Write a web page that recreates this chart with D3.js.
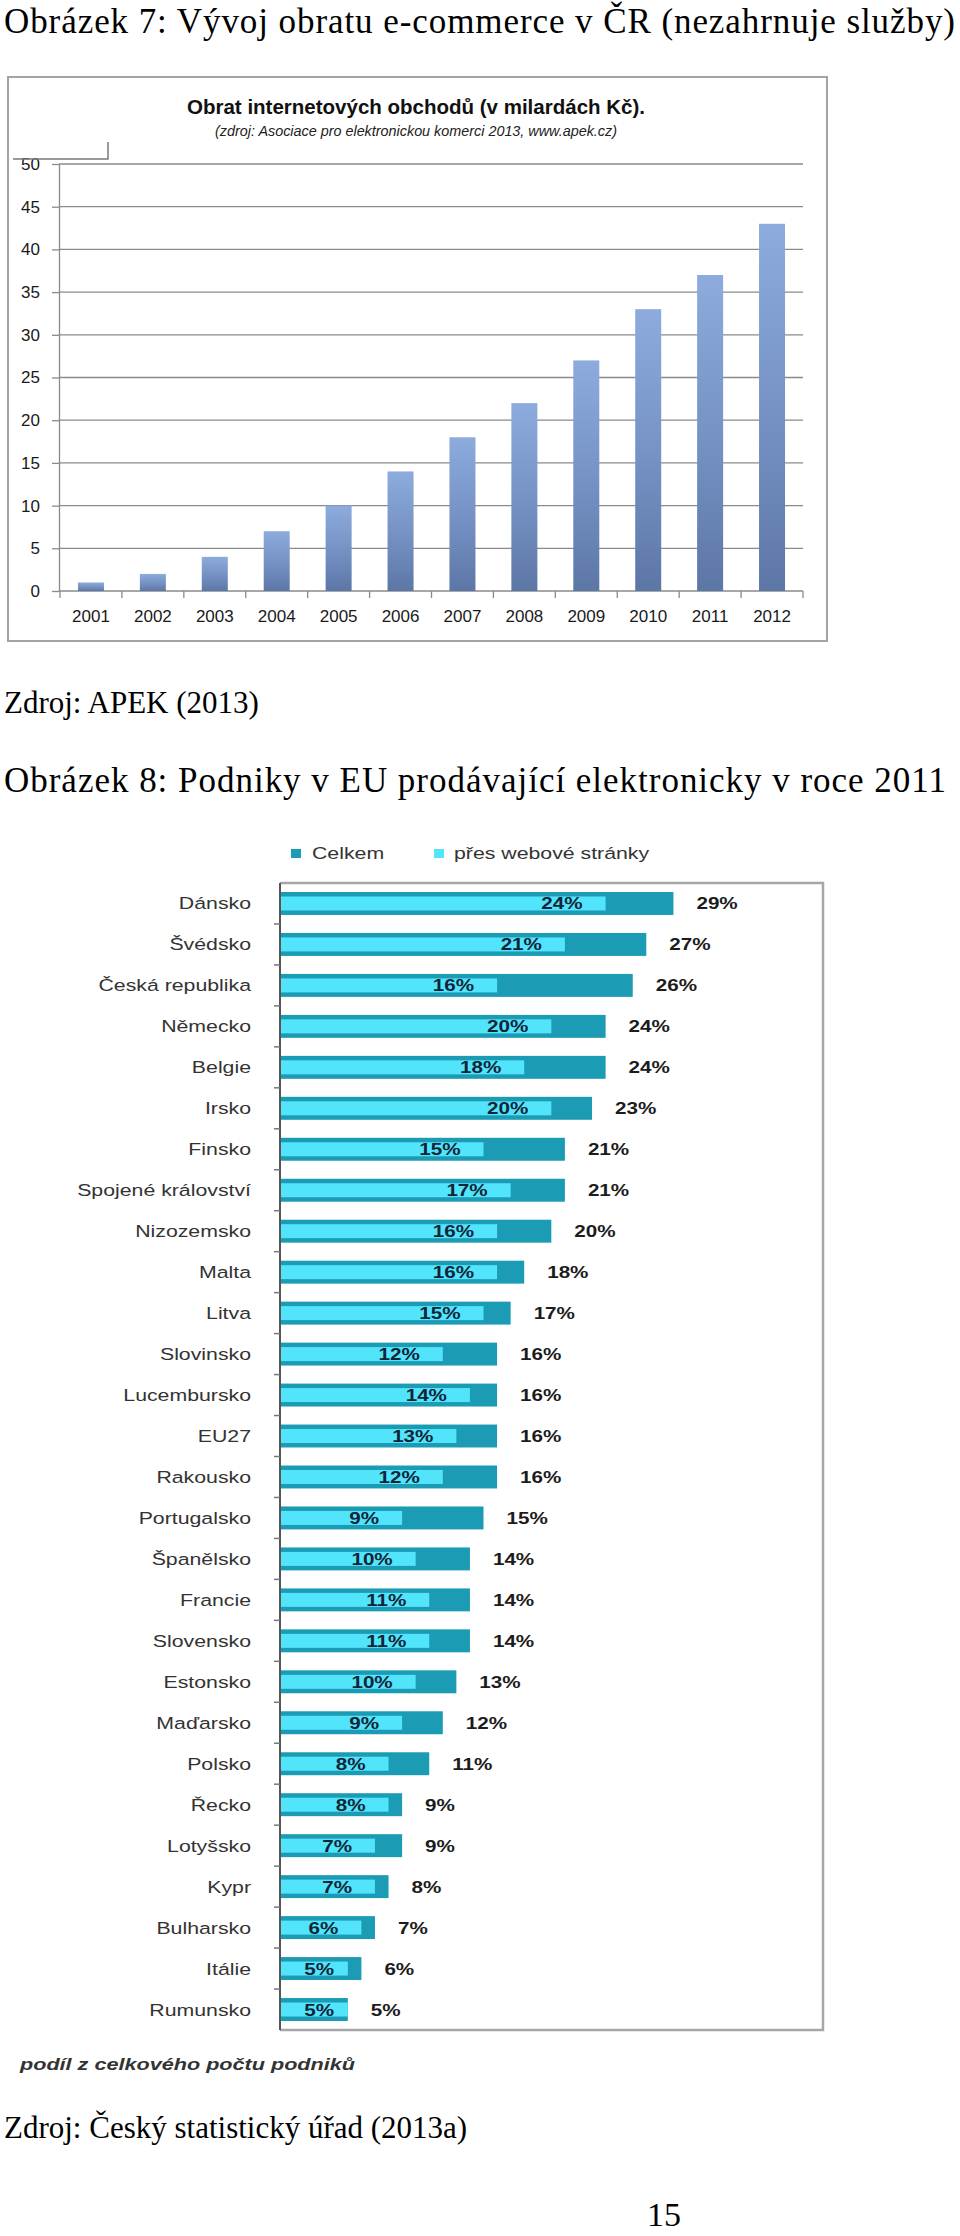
<!DOCTYPE html>
<html>
<head>
<meta charset="utf-8">
<script src="https://cdn.jsdelivr.net/npm/d3@7"></script>
<style>
    body { margin: 0; background: #fff; }
    .serif { font-family: "Liberation Serif", "Times New Roman", serif; fill: #000; }
    .sans { font-family: "Liberation Sans", Arial, sans-serif; }
</style>
</head>
<body>
<svg id="page" width="960" height="2236"></svg>
<script>
// Obrázek 7 - obrat internetových obchodů (mld. Kč)
const years = ['2001', '2002', '2003', '2004', '2005', '2006', '2007', '2008', '2009', '2010', '2011', '2012'];
const turnover = [1, 2, 4, 7, 10, 14, 18, 22, 27, 33, 37, 43];
const turnoverTicks = [0, 5, 10, 15, 20, 25, 30, 35, 40, 45, 50];

// Obrázek 8 - podniky prodávající elektronicky (2011)
const countries = ['Dánsko', 'Švédsko', 'Česká republika', 'Německo', 'Belgie', 'Irsko', 'Finsko',
    'Spojené království', 'Nizozemsko', 'Malta', 'Litva', 'Slovinsko', 'Lucembursko', 'EU27',
    'Rakousko', 'Portugalsko', 'Španělsko', 'Francie', 'Slovensko', 'Estonsko', 'Maďarsko',
    'Polsko', 'Řecko', 'Lotyšsko', 'Kypr', 'Bulharsko', 'Itálie', 'Rumunsko'];
const shareTotal = [29, 27, 26, 24, 24, 23, 21, 21, 20, 18, 17, 16, 16, 16, 16, 15, 14, 14, 14, 13, 12, 11, 9, 9, 8, 7, 6, 5];
const shareWeb = [24, 21, 16, 20, 18, 20, 15, 17, 16, 16, 15, 12, 14, 13, 12, 9, 10, 11, 11, 10, 9, 8, 8, 7, 7, 6, 5, 5];
const legendLabels = ['Celkem', 'přes webové stránky'];

const svg = d3.select('#page');
svg.append('rect').attr('width', 960).attr('height', 2236).attr('fill', '#fff');

// document text (Times)
function pageText(txt, x, y, size, len) {
    let t = svg.append('text')
        .attr('class', 'serif')
        .attr('x', x)
        .attr('y', y)
        .attr('font-size', size)
        .text(txt);
    if (len) t.attr('textLength', len).attr('lengthAdjust', 'spacing');
    return t;
}

pageText('Obrázek 7: Vývoj obratu e-commerce v ČR (nezahrnuje služby)', 4, 33, 35, 951);
pageText('Zdroj: APEK (2013)', 4, 713, 31);
pageText('Obrázek 8: Podniky v EU prodávající elektronicky v roce 2011', 4, 792, 35, 942);
pageText('Zdroj: Český statistický úřad (2013a)', 4, 2138, 31);
pageText('15', 647, 2226, 34);


class TurnoverChart {

    constructor(parent, categories, values, ticks) {
        this.parent = parent;
        this.categories = categories;
        this.values = values;
        this.ticks = ticks;
        this.initVis();
    }

    initVis() {
        let vis = this;

        vis.g = vis.parent.append('g').attr('class', 'turnover');

        let defs = vis.g.append('defs');
        let grad = defs.append('linearGradient')
            .attr('id', 'barGrad')
            .attr('x1', 0).attr('y1', 0).attr('x2', 0).attr('y2', 1);
        grad.append('stop').attr('offset', '0%').attr('stop-color', '#8dabdc');
        grad.append('stop').attr('offset', '50%').attr('stop-color', '#7793c6');
        grad.append('stop').attr('offset', '100%').attr('stop-color', '#5c77a6');

        // frame
        vis.g.append('rect')
            .attr('x', 8).attr('y', 77)
            .attr('width', 819).attr('height', 564)
            .attr('fill', 'none')
            .attr('stroke', '#a4a4a4')
            .attr('stroke-width', 2);

        // Scales
        vis.x = d3.scaleBand()
            .domain(vis.categories)
            .range([60, 803])
            .paddingInner(0.58)
            .paddingOuter(0.29);
        vis.y = d3.scaleLinear()
            .domain([0, 50])
            .range([591, 164]);

        // gridlines
        vis.g.append('g')
            .attr('class', 'grid')
            .selectAll('line')
            .data(vis.ticks)
            .enter().append('line')
            .attr('x1', 59).attr('x2', 803)
            .attr('y1', d => vis.y(d)).attr('y2', d => vis.y(d))
            .attr('stroke', '#8a8a8a')
            .attr('stroke-width', 1.3);

        // y axis
        let yAxis = vis.g.append('g')
            .attr('class', 'y-axis')
            .attr('transform', 'translate(59,0)')
            .call(d3.axisLeft(vis.y).tickValues(vis.ticks).tickSize(7).tickSizeOuter(0).tickPadding(12));
        yAxis.select('.domain').attr('stroke', '#8a8a8a').attr('stroke-width', 1.3);
        yAxis.selectAll('.tick line').attr('stroke', '#8a8a8a').attr('stroke-width', 1.3);
        yAxis.selectAll('text')
            .attr('class', 'sans')
            .attr('font-size', 17)
            .attr('fill', '#1a1a1a');

        // bars
        vis.g.append('g')
            .attr('class', 'bars')
            .selectAll('rect')
            .data(vis.categories.map((c, i) => ({year: c, value: vis.values[i]})))
            .enter().append('rect')
            .attr('x', d => vis.x(d.year))
            .attr('y', d => vis.y(d.value))
            .attr('width', vis.x.bandwidth())
            .attr('height', d => vis.y(0) - vis.y(d.value))
            .attr('fill', 'url(#barGrad)');

        // x axis
        let xAxis = vis.g.append('g')
            .attr('class', 'x-axis')
            .attr('transform', 'translate(0,591)')
            .call(d3.axisBottom(vis.x).tickSize(0).tickPadding(19));
        xAxis.select('.domain').remove();
        xAxis.selectAll('text')
            .attr('class', 'sans')
            .attr('font-size', 17)
            .attr('fill', '#1a1a1a');

        let step = vis.x.step();
        vis.g.append('g')
            .attr('class', 'x-ticks')
            .selectAll('line')
            .data(d3.range(vis.categories.length + 1))
            .enter().append('line')
            .attr('x1', i => vis.x.range()[0] + i * step)
            .attr('x2', i => vis.x.range()[0] + i * step)
            .attr('y1', 591).attr('y2', 598)
            .attr('stroke', '#8a8a8a')
            .attr('stroke-width', 1.3);

        // titles
        vis.g.append('text')
            .attr('class', 'sans')
            .attr('x', 187).attr('y', 114)
            .attr('font-size', 20)
            .attr('font-weight', 'bold')
            .attr('fill', '#111')
            .attr('textLength', 458)
            .attr('lengthAdjust', 'spacingAndGlyphs')
            .text('Obrat internetových obchodů (v milardách Kč).');
        vis.g.append('text')
            .attr('class', 'sans')
            .attr('x', 215).attr('y', 136)
            .attr('font-size', 14)
            .attr('font-style', 'italic')
            .attr('fill', '#222')
            .attr('textLength', 402)
            .attr('lengthAdjust', 'spacingAndGlyphs')
            .text('(zdroj: Asociace pro elektronickou komerci 2013, www.apek.cz)');

        // leftover legend corner from the original picture
        vis.g.append('path')
            .attr('d', 'M13,159H108V142')
            .attr('fill', 'none')
            .attr('stroke', '#7a7a7a')
            .attr('stroke-width', 1.5);
    }
}


class ShareChart {

    constructor(parent, countries, total, web, legend) {
        this.parent = parent;
        this.rows = countries.map((c, i) => ({country: c, total: total[i], web: web[i]}));
        this.legend = legend;
        this.initVis();
    }

    initVis() {
        let vis = this;

        vis.dark = '#1b9bb4';
        vis.light = '#52e4fb';
        vis.sx = 1.29;

        vis.g = vis.parent.append('g').attr('class', 'shares');

        vis.x = d3.scaleLinear()
            .domain([0, 30])
            .range([280, 687]);
        vis.y = d3.scaleBand()
            .domain(vis.rows.map(d => d.country))
            .range([883, 2030])
            .paddingInner(0.44)
            .paddingOuter(0.22);

        let cy = d => vis.y(d.country) + vis.y.bandwidth() / 2;

        // frame
        vis.g.append('path')
            .attr('d', 'M280,883H823V2030H280')
            .attr('fill', 'none')
            .attr('stroke', '#a6a6a6')
            .attr('stroke-width', 2.5);

        // legend
        let leg = vis.g.append('g').attr('class', 'legend');
        [[291, 312], [434, 454]].forEach((p, i) => {
            leg.append('rect')
                .attr('x', p[0]).attr('y', 849)
                .attr('width', 10).attr('height', 9)
                .attr('fill', i === 0 ? vis.dark : vis.light);
            leg.append('text')
                .attr('class', 'sans')
                .attr('transform', `translate(${p[1]},859) scale(${vis.sx},1)`)
                .attr('font-size', 16.5)
                .attr('fill', '#333')
                .text(vis.legend[i]);
        });

        // bars
        vis.g.append('g').attr('class', 'total-bars')
            .selectAll('rect')
            .data(vis.rows)
            .enter().append('rect')
            .attr('x', vis.x(0))
            .attr('y', d => vis.y(d.country))
            .attr('width', d => vis.x(d.total) - vis.x(0))
            .attr('height', vis.y.bandwidth())
            .attr('fill', vis.dark);

        vis.g.append('g').attr('class', 'web-bars')
            .selectAll('rect')
            .data(vis.rows)
            .enter().append('rect')
            .attr('x', vis.x(0))
            .attr('y', d => cy(d) - 7)
            .attr('width', d => vis.x(d.web) - vis.x(0))
            .attr('height', 14)
            .attr('fill', vis.light);

        // left axis with ticks between categories
        vis.g.append('line')
            .attr('x1', 280).attr('x2', 280)
            .attr('y1', 883).attr('y2', 2030)
            .attr('stroke', '#555')
            .attr('stroke-width', 2);
        vis.g.append('g').attr('class', 'y-ticks')
            .selectAll('line')
            .data(vis.rows.slice(1))
            .enter().append('line')
            .attr('x1', 274).attr('x2', 280)
            .attr('y1', d => vis.y(d.country) - vis.y.step() * vis.y.paddingInner() / 2)
            .attr('y2', d => vis.y(d.country) - vis.y.step() * vis.y.paddingInner() / 2)
            .attr('stroke', '#777')
            .attr('stroke-width', 1.5);

        // country labels
        vis.g.append('g').attr('class', 'countries')
            .selectAll('text')
            .data(vis.rows)
            .enter().append('text')
            .attr('class', 'sans')
            .attr('transform', d => `translate(251,${cy(d) + 6}) scale(${vis.sx},1)`)
            .attr('text-anchor', 'end')
            .attr('font-size', 16.5)
            .attr('fill', '#333')
            .text(d => d.country);

        // value labels
        vis.g.append('g').attr('class', 'web-labels')
            .selectAll('text')
            .data(vis.rows)
            .enter().append('text')
            .attr('class', 'sans')
            .attr('transform', d => `translate(${Math.max(vis.x(d.web) - 23, 334)},${cy(d) + 6}) scale(1.25,1)`)
            .attr('text-anchor', 'end')
            .attr('font-size', 16.5)
            .attr('font-weight', 'bold')
            .attr('fill', '#102538')
            .text(d => d.web + '%');

        vis.g.append('g').attr('class', 'total-labels')
            .selectAll('text')
            .data(vis.rows)
            .enter().append('text')
            .attr('class', 'sans')
            .attr('transform', d => `translate(${vis.x(d.total) + 23},${cy(d) + 6}) scale(1.25,1)`)
            .attr('font-size', 16.5)
            .attr('font-weight', 'bold')
            .attr('fill', '#1c1c1c')
            .text(d => d.total + '%');

        // note below
        vis.g.append('text')
            .attr('class', 'sans')
            .attr('x', 20).attr('y', 2070)
            .attr('font-size', 16)
            .attr('font-weight', 'bold')
            .attr('font-style', 'italic')
            .attr('fill', '#333')
            .attr('textLength', 335)
            .attr('lengthAdjust', 'spacingAndGlyphs')
            .text('podíl z celkového počtu podniků');
    }
}

let turnoverChart = new TurnoverChart(svg, years, turnover, turnoverTicks);
let shareChart = new ShareChart(svg, countries, shareTotal, shareWeb, legendLabels);
</script>
</body>
</html>
